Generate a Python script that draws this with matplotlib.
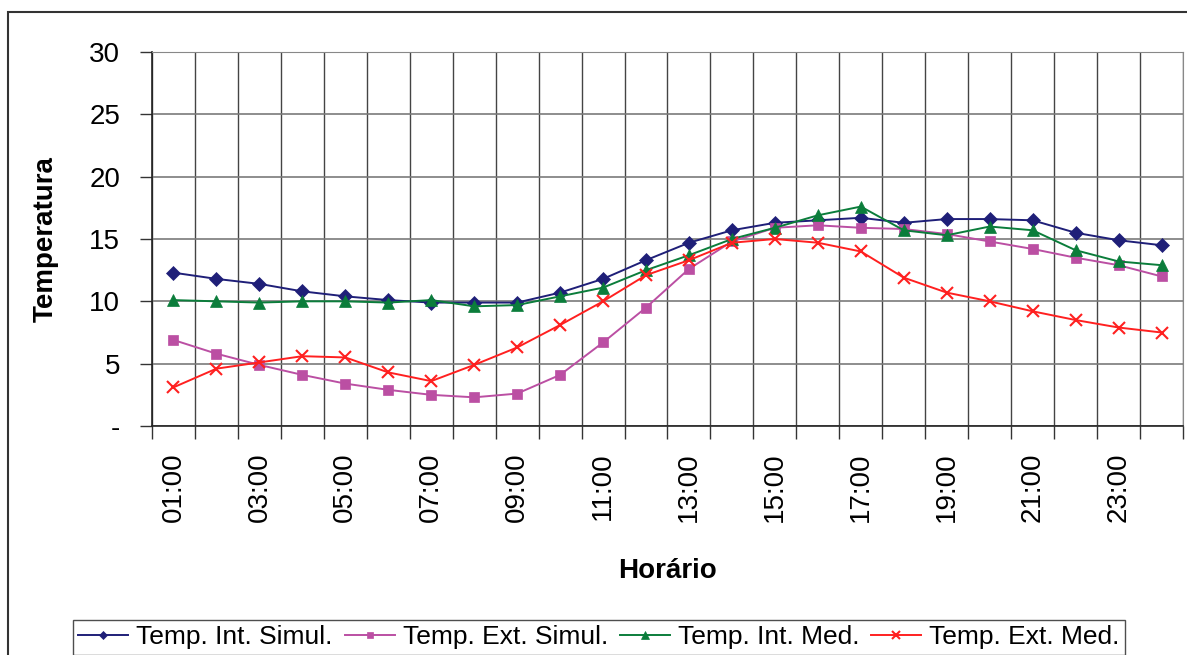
import numpy as np
import matplotlib.pyplot as plt
from matplotlib.patches import Rectangle
from matplotlib.ticker import FixedLocator, FuncFormatter

plt.rcParams['font.family'] = ['Liberation Sans', 'DejaVu Sans']

hours = [f"{h:02d}:00" for h in range(1, 25)]

temp_int_simul = [12.3, 11.8, 11.4, 10.8, 10.4, 10.1, 9.9, 9.9, 9.9, 10.7, 11.8, 13.3,
                  14.7, 15.7, 16.3, 16.5, 16.7, 16.3, 16.6, 16.6, 16.5, 15.5, 14.9, 14.5]
temp_ext_simul = [6.9, 5.8, 4.9, 4.1, 3.4, 2.9, 2.5, 2.3, 2.6, 4.1, 6.7, 9.5,
                  12.6, 14.8, 15.9, 16.1, 15.9, 15.8, 15.4, 14.8, 14.2, 13.5, 12.9, 12.0]
temp_int_med = [10.1, 10.0, 9.9, 10.0, 10.0, 9.9, 10.1, 9.6, 9.7, 10.4, 11.1, 12.5,
                13.7, 15.0, 15.9, 16.9, 17.6, 15.7, 15.3, 16.0, 15.7, 14.1, 13.2, 12.9]
temp_ext_med = [3.1, 4.6, 5.1, 5.6, 5.5, 4.3, 3.6, 4.9, 6.3, 8.1, 10.0, 12.1,
                13.3, 14.7, 15.0, 14.7, 14.0, 11.9, 10.7, 10.0, 9.2, 8.5, 7.9, 7.5]

series = [
    ("Temp. Int. Simul.", temp_int_simul, "#1f1f78", "D", 7),
    ("Temp. Ext. Simul.", temp_ext_simul, "#bb4fa3", "s", 7),
    ("Temp. Int. Med.", temp_int_med, "#0b7d3b", "^", 9),
    ("Temp. Ext. Med.", temp_ext_med, "#ff2020", "x", 9),
]

W, H = 1187, 655
fig = plt.figure(figsize=(W / 100, H / 100), dpi=100)
ax = fig.add_axes([152 / W, 1 - 426 / H, (1183 - 152) / W, (426 - 52) / H])

x = np.arange(len(hours))
for name, vals, col, mk, ms in series:
    ax.plot(x, vals, color=col, marker=mk, markersize=ms, lw=1.4, label=name,
            markeredgewidth=1.5 if mk == "x" else 0.5)

ax.set_xlim(-0.5, len(hours) - 0.5)
ax.set_ylim(0, 30)
ax.set_yticks(np.arange(0, 31, 5))
ax.yaxis.set_major_formatter(FuncFormatter(lambda v, p: "-" if v == 0 else f"{v:.0f}"))

# labels every other hour, tick marks on category boundaries
ax.xaxis.set_major_locator(FixedLocator(x[::2]))
ax.set_xticklabels(hours[::2], rotation=90)
ax.xaxis.set_minor_locator(FixedLocator(np.arange(-0.5, len(hours), 1)))
ax.tick_params(axis="x", which="major", length=0, pad=19, labelsize=20)
ax.tick_params(axis="x", which="minor", length=9, width=1, color="#333333")
ax.tick_params(axis="y", length=9, width=1, color="#333333", labelsize=20, pad=14)

ax.grid(True, axis="y", which="major", color="#7a7a7a", lw=1.2)
ax.grid(True, axis="x", which="minor", color="#444444", lw=1)
ax.set_axisbelow(True)
for s in ["top", "right"]:
    ax.spines[s].set_color("#888888")
for s in ["left", "bottom"]:
    ax.spines[s].set_color("#222222")
    ax.spines[s].set_linewidth(1.2)

ax.set_ylabel("Temperatura", fontsize=20, fontweight="bold", labelpad=22)
ax.set_xlabel("Horário", fontsize=20, fontweight="bold", labelpad=26)

fig.legend(loc="upper left", bbox_to_anchor=(73 / W, 1 - 620 / H), ncol=4,
           fontsize=19, frameon=True, fancybox=False, edgecolor="#222222",
           handlelength=1.9, handletextpad=0.3, columnspacing=0.45,
           borderpad=0.2, borderaxespad=0, markerscale=0.65)

fig.patches.append(Rectangle((8 / W, -0.1), 1.2, 1 - 12 / H + 0.1,
                             transform=fig.transFigure, fill=False,
                             edgecolor="#333333", lw=1.5))

fig.savefig("out.png", dpi=100)
